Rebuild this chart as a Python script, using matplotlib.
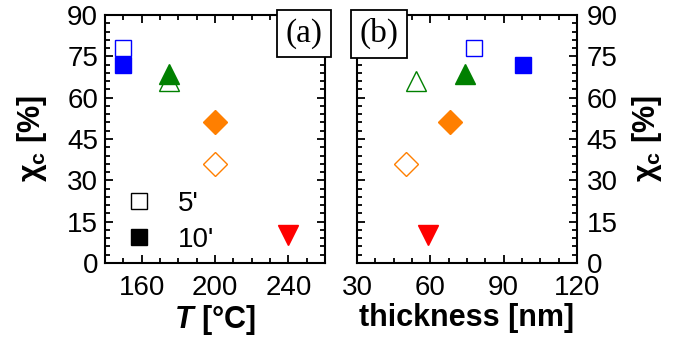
import numpy as np
import matplotlib
matplotlib.use("Agg")
import matplotlib.pyplot as plt
from matplotlib.lines import Line2D
from matplotlib.ticker import MultipleLocator

plt.rcParams['font.family'] = ['Liberation Sans', 'DejaVu Sans']
plt.rcParams['mathtext.fontset'] = 'custom'
plt.rcParams['mathtext.rm'] = 'Liberation Sans'
plt.rcParams['mathtext.bf'] = 'Liberation Sans:bold'
plt.rcParams['mathtext.bfit'] = 'Liberation Sans:bold:italic'

# samples: colour, marker, T (°C), thickness (nm), chi_c 5', chi_c 10'
colors = ['#0000ff', '#008000', '#ff7f00', '#ff0000']
markers = ['s', '^', 'D', 'v']
temp = [150, 175, 200, 240]
chi_5 = [78, 66, 36, None]
chi_10 = [72, 68.5, 51, 10]
thick_5 = [78, 54, 50, None]
thick_10 = [98, 74, 68, 59]
msize = [11, 14, 12.5, 14]

fig = plt.figure(figsize=(6.81, 3.44), dpi=100)
ax1 = fig.add_axes([0.1542, 0.2355, 0.3230, 0.7209])
ax2 = fig.add_axes([0.5242, 0.2355, 0.3231, 0.7209])

for i in range(4):
    ms = msize[i]
    if chi_5[i] is not None:
        ax1.plot(temp[i], chi_5[i], marker=markers[i], ms=ms, mfc='white',
                 mec=colors[i], mew=1.0, ls='none')
        ax2.plot(thick_5[i], chi_5[i], marker=markers[i], ms=ms, mfc='white',
                 mec=colors[i], mew=1.0, ls='none')
    ax1.plot(temp[i], chi_10[i], marker=markers[i], ms=ms, mfc=colors[i],
             mec=colors[i], ls='none')
    ax2.plot(thick_10[i], chi_10[i], marker=markers[i], ms=ms, mfc=colors[i],
             mec=colors[i], ls='none')

for ax in (ax1, ax2):
    ax.set_ylim(0, 90)
    ax.yaxis.set_major_locator(MultipleLocator(15))
    ax.yaxis.set_minor_locator(MultipleLocator(3))
    ax.tick_params(which='both', direction='in', top=True, right=True,
                   labelsize=20, width=1.3)
    ax.tick_params(axis='x', pad=9)
    ax.tick_params(axis='y', pad=5)
    ax.tick_params(which='major', length=6)
    ax.tick_params(which='minor', length=3.5)
    for sp in ax.spines.values():
        sp.set_linewidth(1.5)

ax1.set_xlim(140, 260)
ax1.set_xticks([160, 200, 240])
ax1.xaxis.set_minor_locator(MultipleLocator(10))
ax2.set_xlim(30, 120)
ax2.xaxis.set_major_locator(MultipleLocator(30))
ax2.xaxis.set_minor_locator(MultipleLocator(7.5))
ax2.tick_params(axis='y', labelleft=False, labelright=True, pad=7)

ax1.set_xlabel(r'$\mathbfit{T}$ [°C]', fontsize=22, fontweight='bold', labelpad=1)
ax2.set_xlabel('thickness [nm]', fontsize=22, fontweight='bold', labelpad=1)
ax1.set_ylabel(r'χ$_\mathbf{c}$ [%]', fontsize=22, fontweight='bold', labelpad=13)
ax2.yaxis.set_label_position('right')
ax2.set_ylabel(r'χ$_\mathbf{c}$ [%]', fontsize=22, fontweight='bold', labelpad=9,
               rotation=90)

box = dict(boxstyle='square,pad=0.25', fc='white', ec='black', lw=1.3)
ax1.text(0.988, 0.988, '(a)', transform=ax1.transAxes, ha='right', va='top',
         fontsize=24, family='Liberation Serif', bbox=box)
ax2.text(0.012, 0.988, '(b)', transform=ax2.transAxes, ha='left', va='top',
         fontsize=24, family='Liberation Serif', bbox=box)

handles = [Line2D([], [], marker='s', ms=11, mfc='white', mec='black', mew=1.0, ls='none'),
           Line2D([], [], marker='s', ms=11, mfc='black', mec='black', ls='none')]
ax1.legend(handles, ["5'", "10'"], loc='lower left', bbox_to_anchor=(0.09, 0.04),
           frameon=False, fontsize=20, handlelength=1.0, handletextpad=0.9,
           labelspacing=0.38, borderpad=0, borderaxespad=0)

fig.savefig('out.png', dpi=100)
